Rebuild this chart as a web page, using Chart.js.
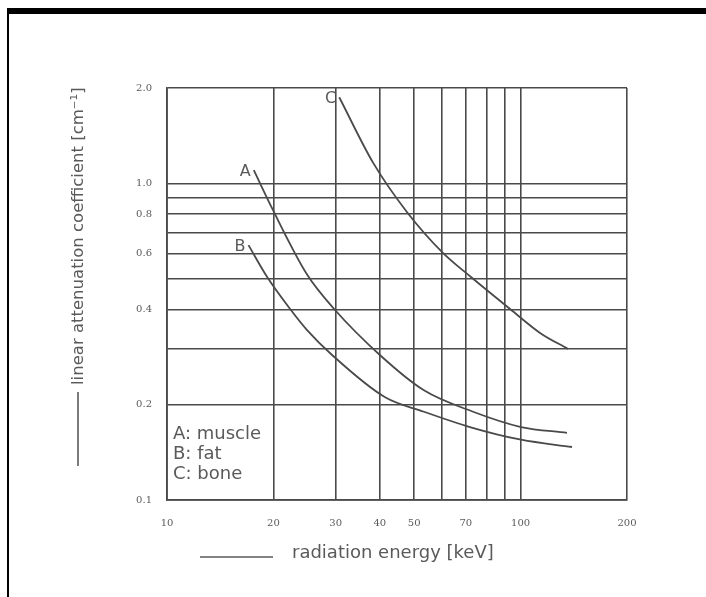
<!DOCTYPE html>
<html lang="en">
<head>
  <meta charset="UTF-8" />
  <title>Linear attenuation coefficient</title>
  <script src="https://cdn.jsdelivr.net/npm/chart.js"></script>
  <style>
    body {
      margin: 0;
      padding: 0;
      background: white;
    }
    .frame {
      position: absolute;
      left: 7px;
      top: 8px;
      width: 699px;
      height: 589px;
      border-top: 6px solid black;
      border-left: 2px solid black;
      box-sizing: border-box;
      pointer-events: none;
    }
    #wrap {
      position: absolute;
      left: 0;
      top: 0;
      width: 706px;
      height: 597px;
    }
  </style>
</head>
<body>
  <div id="wrap"><canvas id="muChart"></canvas></div>
  <div class="frame"></div>

  <script>
    // values (energy in keV, mu in 1/cm)
    const muscleEnergy = [17.6, 19.8, 24.9, 29.7, 40.0, 53.3, 73.4, 100.3, 135.3];
    const muscleMu     = [1.10, 0.836, 0.515, 0.401, 0.287, 0.222, 0.190, 0.170, 0.163];

    const fatEnergy = [17.0, 19.2, 22.3, 24.9, 29.3, 41.4, 53.3, 71.9, 100.3, 139.8];
    const fatMu     = [0.638, 0.506, 0.401, 0.344, 0.287, 0.211, 0.190, 0.170, 0.155, 0.147];

    const boneEnergy = [30.7, 38.3, 47.7, 60.3, 72.4, 93.4, 113.5, 136.2];
    const boneMu     = [1.87, 1.16, 0.812, 0.603, 0.506, 0.401, 0.337, 0.300];

    const xTicks = [10, 20, 30, 40, 50, 60, 70, 80, 90, 100, 200];
    const xLabelled = [10, 20, 30, 40, 50, 70, 100, 200];
    const yTicks = [0.1, 0.2, 0.3, 0.4, 0.5, 0.6, 0.7, 0.8, 0.9, 1.0, 2.0];
    const yLabelled = [0.1, 0.2, 0.4, 0.6, 0.8, 1.0, 2.0];

    const curveNames = ['A', 'B', 'C'];
    const legendLines = ['A: muscle', 'B: fat', 'C: bone'];

    const ink = '#4a4a4a';
    const textInk = '#5a5a5a';

    function pts(xs, ys) {
      return xs.map((x, i) => ({ x: x, y: ys[i] }));
    }

    const lineStyle = {
      showLine: true,
      borderColor: ink,
      borderWidth: 1.8,
      pointRadius: 0,
      fill: false,
      cubicInterpolationMode: 'monotone'
    };

    // letters at curve starts, key text and the two axis titles
    const annotate = {
      id: 'annotate',
      afterDraw(chart) {
        const c = chart.ctx;
        const xs = chart.scales.x, ys = chart.scales.y;
        const area = chart.chartArea;
        c.save();
        c.fillStyle = textInk;
        c.strokeStyle = textInk;

        c.font = '16px "DejaVu Sans", sans-serif';
        c.textAlign = 'right';
        c.textBaseline = 'middle';
        chart.data.datasets.forEach((ds, i) => {
          const p = ds.data[0];
          const px = xs.getPixelForValue(p.x);
          const py = ys.getPixelForValue(p.y);
          c.fillText(curveNames[i], px - 3, py + 2);
        });

        c.font = '18px "DejaVu Sans", sans-serif';
        c.textAlign = 'left';
        legendLines.forEach((t, i) => {
          c.fillText(t, area.left + 6, 434 + i * 20);
        });

        // x title
        c.lineWidth = 1.6;
        c.beginPath();
        c.moveTo(200, 557);
        c.lineTo(273, 557);
        c.stroke();
        c.font = '18px "DejaVu Sans", sans-serif';
        c.textBaseline = 'middle';
        c.fillText('radiation energy [keV]', 292, 553);

        // y title
        c.beginPath();
        c.moveTo(78, 466);
        c.lineTo(78, 392);
        c.stroke();
        c.font = '16.5px "DejaVu Sans", sans-serif';
        c.translate(79, 385);
        c.rotate(-Math.PI / 2);
        c.textAlign = 'left';
        c.fillText('linear attenuation coefficient [cm\u207B\u00B9]', 0, 0);
        c.restore();
      }
    };

    new Chart(document.getElementById('muChart'), {
      type: 'scatter',
      data: {
        datasets: [
          Object.assign({ label: 'muscle', data: pts(muscleEnergy, muscleMu) }, lineStyle),
          Object.assign({ label: 'fat', data: pts(fatEnergy, fatMu) }, lineStyle),
          Object.assign({ label: 'bone', data: pts(boneEnergy, boneMu) }, lineStyle)
        ]
      },
      options: {
        responsive: true,
        maintainAspectRatio: false,
        animation: false,
        layout: { padding: { left: 117, right: 79, top: 88, bottom: 67 } },
        plugins: {
          legend: { display: false },
          tooltip: { enabled: false }
        },
        scales: {
          x: {
            type: 'logarithmic',
            min: 10,
            max: 200,
            afterBuildTicks: s => { s.ticks = xTicks.map(v => ({ value: v })); },
            afterFit: s => { s.height = 30; },
            ticks: {
              autoSkip: false,
              maxRotation: 0,
              padding: 17,
              color: textInk,
              font: { family: '"DejaVu Serif", serif', size: 10 },
              callback: v => xLabelled.includes(v) ? String(v) : ''
            },
            grid: { color: ink, lineWidth: 1.6, drawTicks: false },
            border: { display: true, color: ink, width: 1.8 }
          },
          y: {
            type: 'logarithmic',
            min: 0.1,
            max: 2.0,
            afterBuildTicks: s => { s.ticks = yTicks.map(v => ({ value: v })); },
            afterFit: s => { s.width = 50; },
            ticks: {
              autoSkip: false,
              padding: 15,
              color: textInk,
              font: { family: '"DejaVu Serif", serif', size: 10 },
              callback: v => yLabelled.some(t => Math.abs(t - v) < 1e-9) ? v.toFixed(1) : ''
            },
            grid: { color: ink, lineWidth: 1.6, drawTicks: false },
            border: { display: true, color: ink, width: 1.8 }
          }
        }
      },
      plugins: [annotate]
    });
  </script>
</body>
</html>
